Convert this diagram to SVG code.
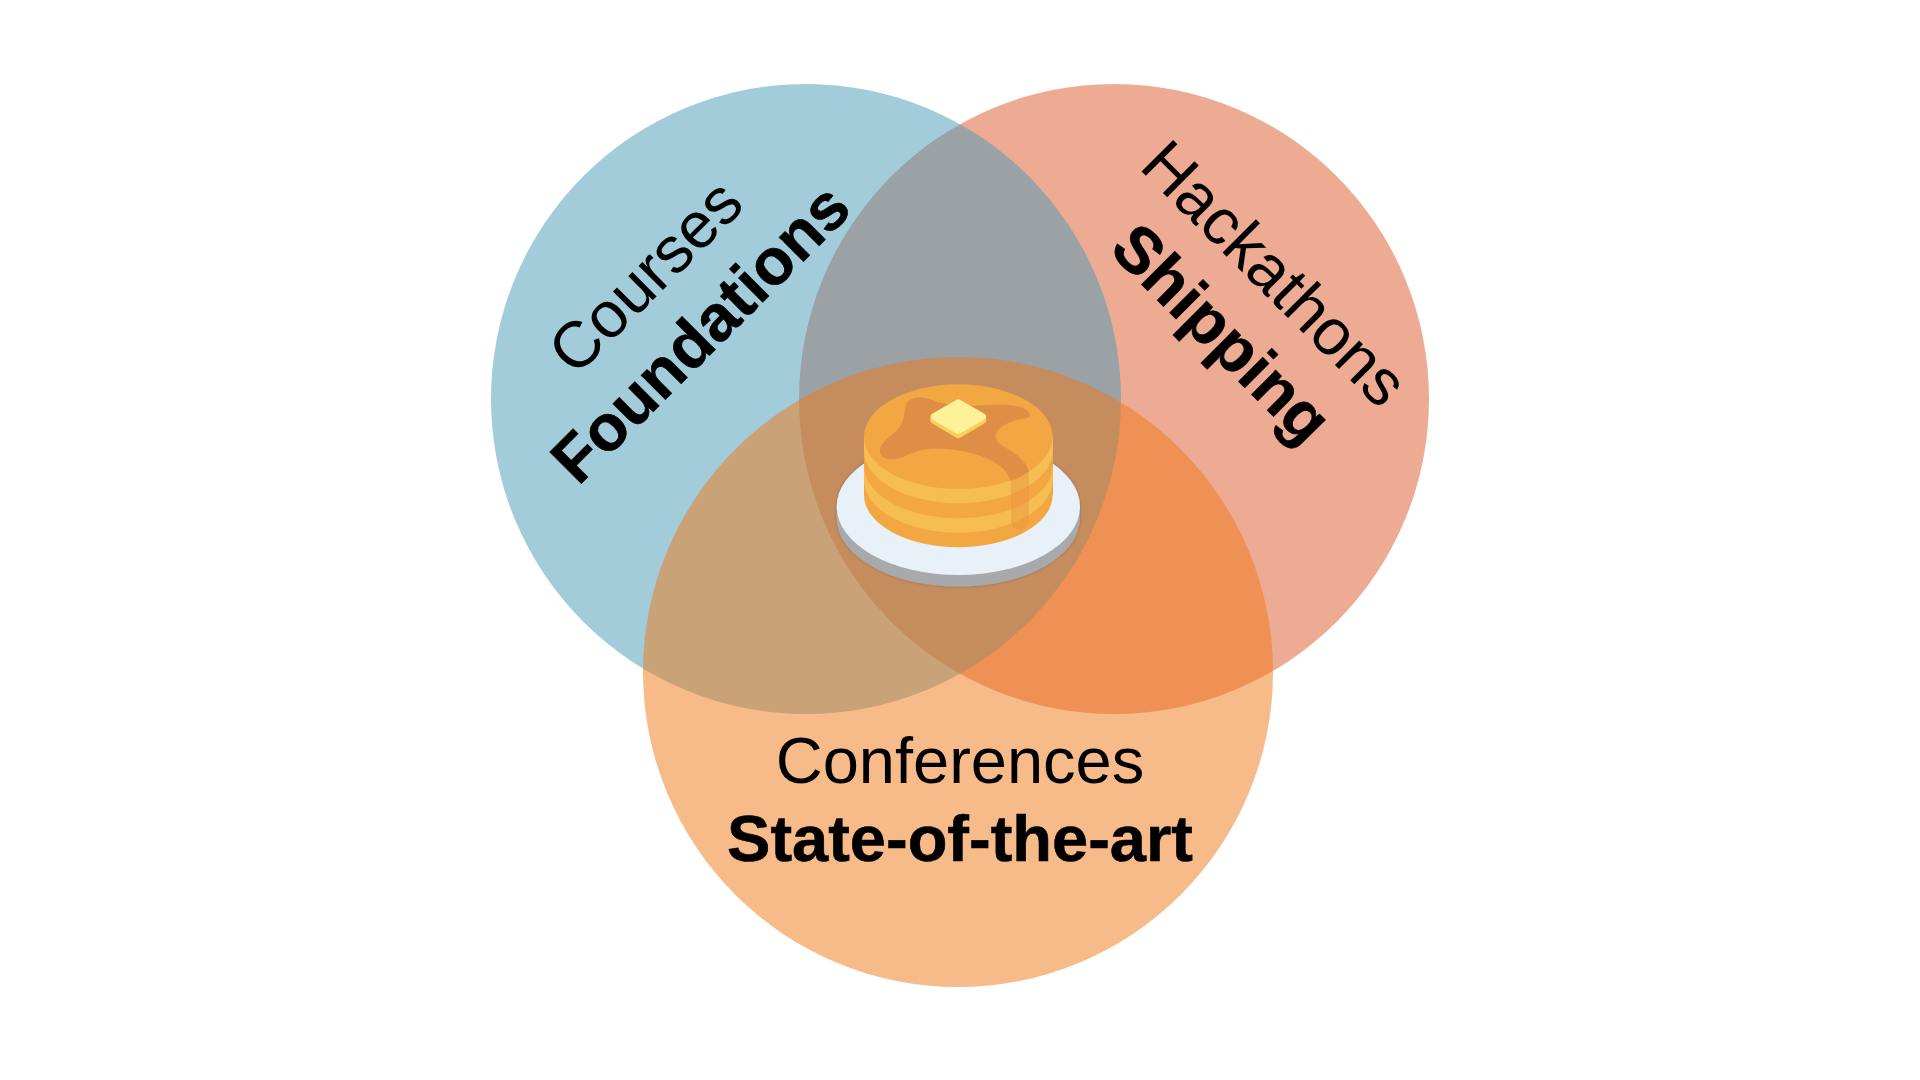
<svg xmlns="http://www.w3.org/2000/svg" width="1920" height="1080" viewBox="0 0 1920 1080">
<style>
.c{opacity:.5}
text{font-family:"Liberation Sans",Arial,sans-serif;fill:#000;text-anchor:middle}
.r{font-size:65px}
.b{font-size:65px;font-weight:700;stroke:#000;stroke-width:.6px}
</style>
<defs>
<filter id="s" x="-10%" y="-10%" width="120%" height="120%"><feDropShadow dx="0" dy="0" stdDeviation="4" flood-color="#000" flood-opacity=".25"/></filter>
</defs>
<rect width="1920" height="1080" fill="#fff"/>
<g id="hackathons"><circle class="c" cx="1114" cy="399" r="315" fill="#dd5727"/></g>
<g id="courses"><circle class="c" cx="806" cy="399" r="315" fill="#4899b8"/></g>
<g id="conferences"><circle class="c" cx="958" cy="672" r="315" fill="#ef7715"/></g>
<g id="pancakes" transform="translate(800 360) scale(.3333)">
<g filter="url(#s)">
<ellipse cx="475" cy="475" rx="365" ry="205" fill="#a7a9ac"/>
<rect x="110" y="440" width="730" height="36" fill="#a7a9ac"/>
<ellipse cx="475" cy="440" rx="365" ry="205" fill="#a7a9ac"/>
</g>
<ellipse cx="475" cy="440" rx="365" ry="205" fill="#e8f0f8"/>
<g fill="#f3a742"><rect x="192" y="230" width="567" height="175"/><ellipse cx="475" cy="405" rx="283" ry="157"/></g>
<g fill="#f5bd52"><rect x="192" y="230" width="567" height="131"/><ellipse cx="475" cy="361" rx="283" ry="157"/></g>
<g fill="#f3a742"><rect x="192" y="230" width="567" height="88"/><ellipse cx="475" cy="318" rx="283" ry="157"/></g>
<g fill="#f5bd52"><rect x="192" y="230" width="567" height="43"/><ellipse cx="475" cy="273" rx="283" ry="157"/></g>
<ellipse cx="475" cy="230" rx="283" ry="157" fill="#f3a742"/>
<path d="M633 350V485Q636 508 660 510Q685 505 687 480V335L633 350Z" fill="#e58f3c" opacity=".4"/>
<path d="M318 135C330 105 370 108 420 128L500 140C560 135 620 128 665 142C690 152 697 168 680 174C640 180 595 195 587 225C585 255 625 262 650 285C670 300 682 318 687 335Q660 355 632 362C625 340 605 315 560 295C510 275 450 262 380 268C330 275 310 298 275 298C245 298 232 278 245 255C262 230 290 220 305 190C315 170 312 150 318 135Z" fill="#df8f45"/>
<path d="M475 136L548 180L475 224L402 180Z" fill="#f9cf5e" stroke="#f9cf5e" stroke-width="22" stroke-linejoin="round"/>
<path d="M475 128L548 170L475 212L402 170Z" fill="#fdf29a" stroke="#fdf29a" stroke-width="20" stroke-linejoin="round"/>
</g>
<g id="labels">
<text class="r" transform="translate(661 292) rotate(-45)">Courses</text>
<text class="b" transform="translate(716 349) rotate(-45)">Foundations</text>
<text class="r" transform="translate(1259 289) rotate(45)">Hackathons</text>
<text class="b" transform="translate(1206 349) rotate(45)">Shipping</text>
<text class="r" x="960" y="783">Conferences</text>
<text class="b" x="960" y="861">State-of-the-art</text>
</g>
</svg>
